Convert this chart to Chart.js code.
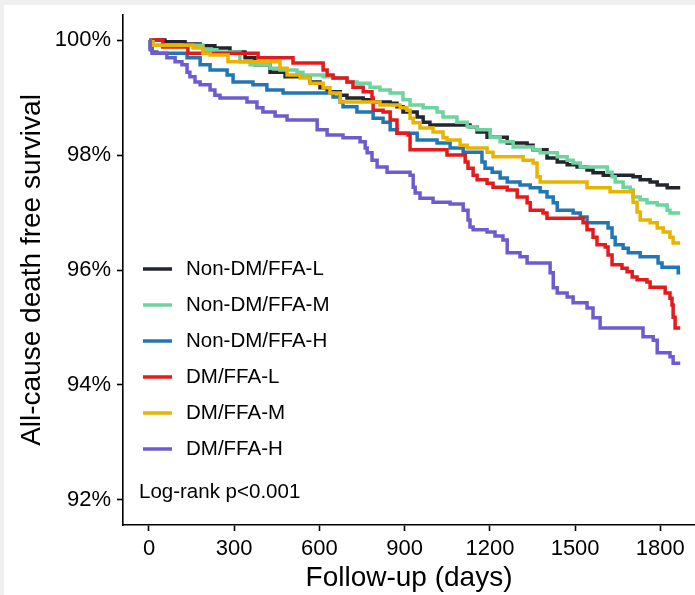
<!DOCTYPE html>
<html>
<head>
<meta charset="utf-8">
<script src="https://cdn.jsdelivr.net/npm/chart.js@4/dist/chart.umd.min.js"></script>
<style>
  html, body { margin: 0; padding: 0; background: #f0f0f0; }
  #wrap { position: absolute; left: 4px; top: 5px; width: 691px; height: 590px; background: #fff; }
</style>
</head>
<body>
<div id="wrap"><canvas id="km"></canvas></div>
<script>
// groups
const groupNames = ['Non-DM/FFA-L', 'Non-DM/FFA-M', 'Non-DM/FFA-H', 'DM/FFA-L', 'DM/FFA-M', 'DM/FFA-H'];
const groupColors = ['#23262e', '#6dd3a0', '#2077b4', '#e41a1c', '#e8b400', '#6c5ccf'];

// step points (day of drop, survival % after drop)
const nonDmLDays = [0,56,127,180,232,285,338,373,426,479,567,602,627,673,697,754,789,849,873,894,944,965,989,1130,1155,1190,1261,1331,1352,1401,1437,1472,1507,1542,1563,1599,1704,1729,1764,1789,1824,1870];
const nonDmLSurv = [100,99.97,99.93,99.90,99.86,99.79,99.69,99.57,99.44,99.36,99.27,99.17,99.10,99.04,98.99,98.96,98.92,98.90,98.84,98.75,98.66,98.57,98.52,98.49,98.40,98.31,98.21,98.17,98.09,97.95,97.88,97.83,97.79,97.74,97.69,97.65,97.62,97.57,97.53,97.48,97.43,97.43];

const nonDmMDays = [0,14,190,239,320,356,426,461,521,542,613,648,697,732,778,813,849,894,919,965,1014,1035,1084,1120,1155,1201,1236,1282,1352,1377,1437,1472,1493,1518,1613,1630,1641,1669,1694,1704,1729,1753,1789,1824,1834,1870];
const nonDmMSurv = [100,99.91,99.83,99.79,99.62,99.57,99.51,99.48,99.44,99.39,99.36,99.34,99.27,99.25,99.18,99.13,99.08,98.96,98.87,98.82,98.75,98.66,98.57,98.49,98.44,98.31,98.23,98.14,98.09,98.04,97.97,97.91,97.86,97.79,97.70,97.62,97.53,97.44,97.39,97.27,97.22,97.17,97.13,97.04,96.99,96.99];

const nonDmHDays = [0,4,11,28,134,180,215,275,296,366,415,472,648,673,683,732,789,824,849,873,944,1014,1060,1106,1172,1183,1208,1236,1261,1306,1342,1377,1401,1423,1437,1493,1518,1542,1616,1630,1641,1669,1687,1729,1792,1806,1863,1870];
const nonDmHSurv = [100,99.86,99.79,99.77,99.69,99.57,99.48,99.39,99.27,99.22,99.13,99.08,99.01,98.92,98.84,98.75,98.64,98.57,98.44,98.38,98.26,98.21,98.12,98.05,97.88,97.77,97.70,97.60,97.53,97.48,97.43,97.36,97.27,97.17,97.04,96.99,96.92,96.82,96.73,96.57,96.44,96.38,96.30,96.23,96.12,96.05,95.95,95.95];

const dmLDays = [0,49,137,384,507,613,627,648,697,718,754,785,789,824,849,873,912,919,1049,1113,1123,1141,1155,1190,1211,1261,1296,1331,1342,1387,1401,1528,1542,1563,1577,1606,1616,1630,1665,1683,1701,1718,1753,1764,1817,1834,1841,1845,1852,1870];
const dmLSurv = [100,99.88,99.77,99.69,99.60,99.48,99.39,99.34,99.27,99.18,99.10,98.99,98.78,98.75,98.61,98.38,98.35,98.09,98.00,97.88,97.77,97.65,97.57,97.51,97.44,97.39,97.27,97.17,97.04,96.99,96.90,96.82,96.70,96.57,96.44,96.40,96.26,96.09,96.03,95.97,95.88,95.83,95.79,95.70,95.60,95.51,95.39,95.18,94.99,94.99];

const dmMDays = [0,4,14,155,190,215,278,461,486,532,567,613,637,673,813,884,908,919,930,954,1000,1035,1049,1095,1120,1190,1211,1317,1352,1366,1377,1542,1623,1704,1718,1729,1764,1789,1810,1834,1845,1870];
const dmMSurv = [100,99.97,99.91,99.86,99.77,99.74,99.62,99.51,99.39,99.34,99.25,99.17,99.08,98.92,98.87,98.82,98.78,98.64,98.56,98.47,98.40,98.30,98.26,98.17,98.12,98.05,97.97,97.91,97.86,97.62,97.53,97.43,97.36,97.18,97.01,96.87,96.82,96.73,96.66,96.57,96.47,96.47];

const dmHDays = [0,4,11,63,92,116,134,144,162,180,215,232,250,345,380,401,444,486,592,627,683,743,761,768,785,803,838,919,930,937,954,1000,1060,1106,1123,1130,1141,1190,1218,1246,1261,1306,1331,1412,1423,1437,1472,1493,1542,1563,1588,1739,1775,1789,1834,1845,1870];
const dmHSurv = [100,99.83,99.77,99.69,99.62,99.57,99.44,99.36,99.27,99.22,99.13,99.04,98.99,98.92,98.82,98.75,98.68,98.61,98.44,98.35,98.30,98.23,98.12,98.04,97.91,97.79,97.70,97.65,97.44,97.34,97.25,97.18,97.15,97.04,96.87,96.75,96.70,96.66,96.59,96.52,96.30,96.23,96.12,95.95,95.69,95.60,95.53,95.43,95.34,95.17,94.99,94.84,94.78,94.56,94.49,94.38,94.38];

const xTicks = [0, 300, 600, 900, 1200, 1500, 1800];
const yTicks = [92, 94, 96, 98, 100];
const pValueText = 'Log-rank p<0.001';

const FONT = "'Liberation Sans', Arial, Helvetica, sans-serif";

const allDays = [nonDmLDays, nonDmMDays, nonDmHDays, dmLDays, dmMDays, dmHDays];
const allSurv = [nonDmLSurv, nonDmMSurv, nonDmHSurv, dmLSurv, dmMSurv, dmHSurv];

const datasets = groupNames.map((name, g) => ({
  label: name,
  data: allDays[g].map((d, i) => ({ x: d, y: allSurv[g][i] })),
  borderColor: groupColors[g],
  backgroundColor: groupColors[g],
  borderWidth: 3.5,
  stepped: 'before',
  pointRadius: 0,
  fill: false,
  order: groupNames.length - g  // later groups on top, like ggplot
}));

// legend + log-rank text drawn inside the panel
const insideLegend = {
  id: 'insideLegend',
  afterDraw(chart) {
    const { ctx, chartArea } = chart;
    ctx.save();
    ctx.font = '20.5px ' + FONT;
    ctx.textBaseline = 'middle';
    ctx.fillStyle = '#000';
    chart.data.datasets.forEach((ds, i) => {
      const y = chartArea.top + 254 + i * 36;
      ctx.strokeStyle = ds.borderColor;
      ctx.lineWidth = 3.5;
      ctx.beginPath();
      ctx.moveTo(chartArea.left + 20, y);
      ctx.lineTo(chartArea.left + 49, y);
      ctx.stroke();
      ctx.fillText(ds.label, chartArea.left + 63, y);
    });
    ctx.fillText(pValueText, chartArea.left + 16, chartArea.top + 477);
    ctx.restore();
  }
};

new Chart(document.getElementById('km'), {
  type: 'line',
  data: { datasets },
  options: {
    responsive: true,
    maintainAspectRatio: false,
    animation: false,
    layout: { padding: { top: 10, right: 0, left: 0, bottom: 0 } },
    plugins: { legend: { display: false }, tooltip: { enabled: false } },
    scales: {
      x: {
        type: 'linear',
        min: -91.5,
        max: 1922,
        afterBuildTicks: (s) => { s.ticks = xTicks.map(v => ({ value: v })); },
        afterFit: (s) => { s.height = 70; s.paddingLeft = 0; s.paddingRight = 0; },
        border: { color: '#000', width: 1.6 },
        grid: { drawOnChartArea: false, drawTicks: true, tickLength: 6, tickColor: '#000', tickWidth: 1.6 },
        ticks: { color: '#000', padding: 5, font: { family: FONT, size: 22 }, maxRotation: 0, callback: (v) => String(v) },
        title: { display: true, text: 'Follow-up (days)', color: '#000', font: { family: FONT, size: 28 }, padding: { top: 0, bottom: 0 } }
      },
      y: {
        type: 'linear',
        min: 91.565,
        max: 100.435,
        afterBuildTicks: (s) => { s.ticks = yTicks.map(v => ({ value: v })); },
        afterFit: (s) => { s.width = 119; s.paddingTop = 0; s.paddingBottom = 0; },
        border: { color: '#000', width: 1.6 },
        grid: { drawOnChartArea: false, drawTicks: true, tickLength: 6, tickColor: '#000', tickWidth: 1.6 },
        ticks: { color: '#000', padding: 6, font: { family: FONT, size: 22 }, callback: (v) => v + '%' },
        title: { display: true, text: 'All-cause death free survival', color: '#000', font: { family: FONT, size: 28 }, padding: { top: 11, bottom: 0 } }
      }
    }
  },
  plugins: [insideLegend]
});
</script>
</body>
</html>
